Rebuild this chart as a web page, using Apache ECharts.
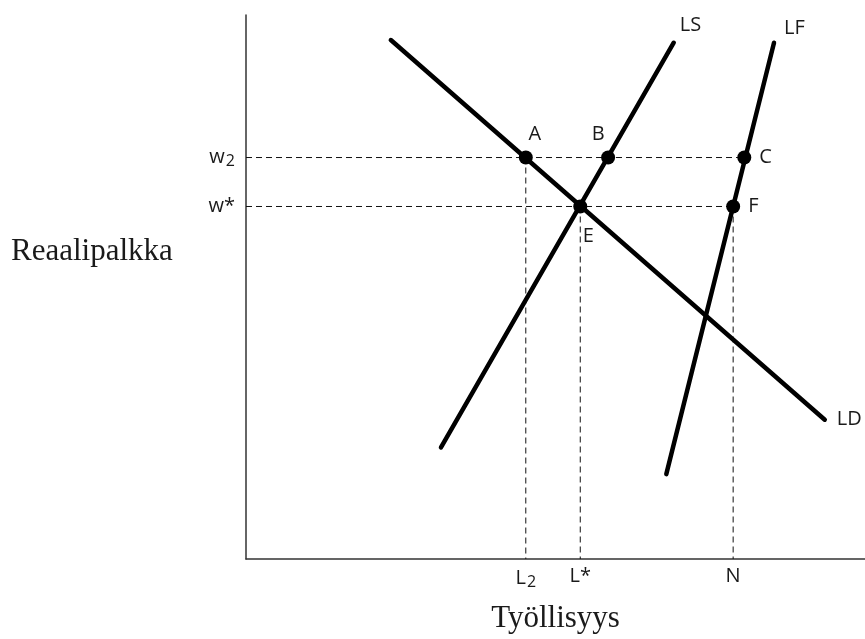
<!DOCTYPE html>
<html>
<head>
<meta charset="utf-8">
<script src="https://cdn.jsdelivr.net/npm/echarts@6/dist/echarts.min.js"></script>
<style>html,body{margin:0;padding:0;background:#fff;}#c{width:865px;height:639px;}</style>
</head>
<body>
<div id="c"></div>
<script>
// Curves (two end points each), in chart units (0-100 on both axes)
const ldLine = [[23.4, 95.4], [93.5, 25.6]];
const lsLine = [[31.5, 20.5], [69.1, 94.9]];
const lfLine = [[67.9, 15.6], [85.3, 94.9]];
const curveNames = ['LD', 'LS', 'LF'];
// Marked points
const pointNames = ['A', 'B', 'C', 'E', 'F'];
const pointX = [45.2, 58.5, 80.5, 54.0, 78.7];
const pointY = [73.8, 73.8, 73.8, 64.8, 64.8];
// Tick labels
const wageTicks = [73.8, 64.8];
const wageLabels = ['w{s|2}', 'w*'];
const empTicks = [45.2, 54.0, 78.7];
const empLabels = ['L{s|2}', 'L*', 'N'];
const yName = 'Reaalipalkka';
const xName = 'Työllisyys';

const SANS = 'Open Sans';
const SERIF = 'Liberation Serif';
const TXT = '#1a1a1a';
const FS = 20;

const P = {};
pointNames.forEach((n, i) => P[n] = [pointX[i], pointY[i]]);

const labelPos = {
  A: {position: 'top', offset: [9, -1]},
  B: {position: 'top', offset: [-10, -1]},
  C: {position: 'right', offset: [3, 0]},
  E: {position: 'bottom', offset: [8, 8]},
  F: {position: 'right', offset: [3, 0]}
};

const dashStyle = {color: '#111', width: 1, type: [6, 4]};
const dashed = [
  [[0, P.C[1]], P.C],
  [[0, P.F[1]], P.F],
  [P.A, [P.A[0], 0]],
  [P.E, [P.E[0], 0]],
  [P.F, [P.F[0], 0]]
].map(d => ({type: 'line', data: d, symbol: 'none', silent: true, lineStyle: dashStyle, z: 1}));

const curveLabel = {
  LD: {offset: [4, 0]},
  LS: {offset: [-2, -17]},
  LF: {offset: [2, -14]}
};
const curves = [ldLine, lsLine, lfLine].map((d, i) => ({
  type: 'line', name: curveNames[i], data: d, symbol: 'none', silent: true,
  lineStyle: {color: '#000', width: 4.5, cap: 'round'}, z: 3,
  endLabel: {show: true, formatter: curveNames[i], fontFamily: SANS, fontSize: FS, color: TXT,
    offset: curveLabel[curveNames[i]].offset}
}));

const chart = echarts.init(document.getElementById('c'), null, {renderer: 'canvas'});
chart.setOption({
  animation: false,
  backgroundColor: '#fff',
  grid: {left: 246, right: 0, top: 15, bottom: 78},
  xAxis: {
    type: 'value', min: 0, max: 100,
    name: xName, nameLocation: 'middle', nameGap: 44,
    nameTextStyle: {fontFamily: SERIF, fontSize: 31, color: TXT},
    axisLine: {show: true, lineStyle: {color: '#333', width: 1.5}},
    axisTick: {show: false}, splitLine: {show: false},
    axisLabel: {
      customValues: empTicks, margin: 7, fontFamily: SANS, fontSize: FS, color: TXT,
      formatter: v => empLabels[empTicks.indexOf(v)],
      rich: {s: {fontFamily: SANS, fontSize: 16, color: TXT, padding: [8, 0, 0, 1]}}
    }
  },
  yAxis: {
    type: 'value', min: 0, max: 100,
    axisLine: {show: true, lineStyle: {color: '#333', width: 1.5}},
    axisTick: {show: false}, splitLine: {show: false},
    axisLabel: {
      customValues: wageTicks, margin: 11, fontFamily: SANS, fontSize: FS, color: TXT,
      formatter: v => wageLabels[wageTicks.indexOf(v)],
      rich: {s: {fontFamily: SANS, fontSize: 16, color: TXT, padding: [8, 0, 0, 1]}}
    }
  },
  graphic: [{
    type: 'text', left: 11, top: 236,
    style: {text: yName, font: '31px "Liberation Serif"', fill: TXT}
  }],
  series: [
    ...dashed,
    ...curves,
    {
      type: 'scatter', symbolSize: 14, silent: true, z: 5,
      itemStyle: {color: '#000', opacity: 1},
      data: pointNames.map(n => ({
        value: P[n],
        label: Object.assign({show: true, formatter: n, fontFamily: SANS, fontSize: FS, color: TXT}, labelPos[n])
      }))
    }
  ]
});
</script>
</body>
</html>
